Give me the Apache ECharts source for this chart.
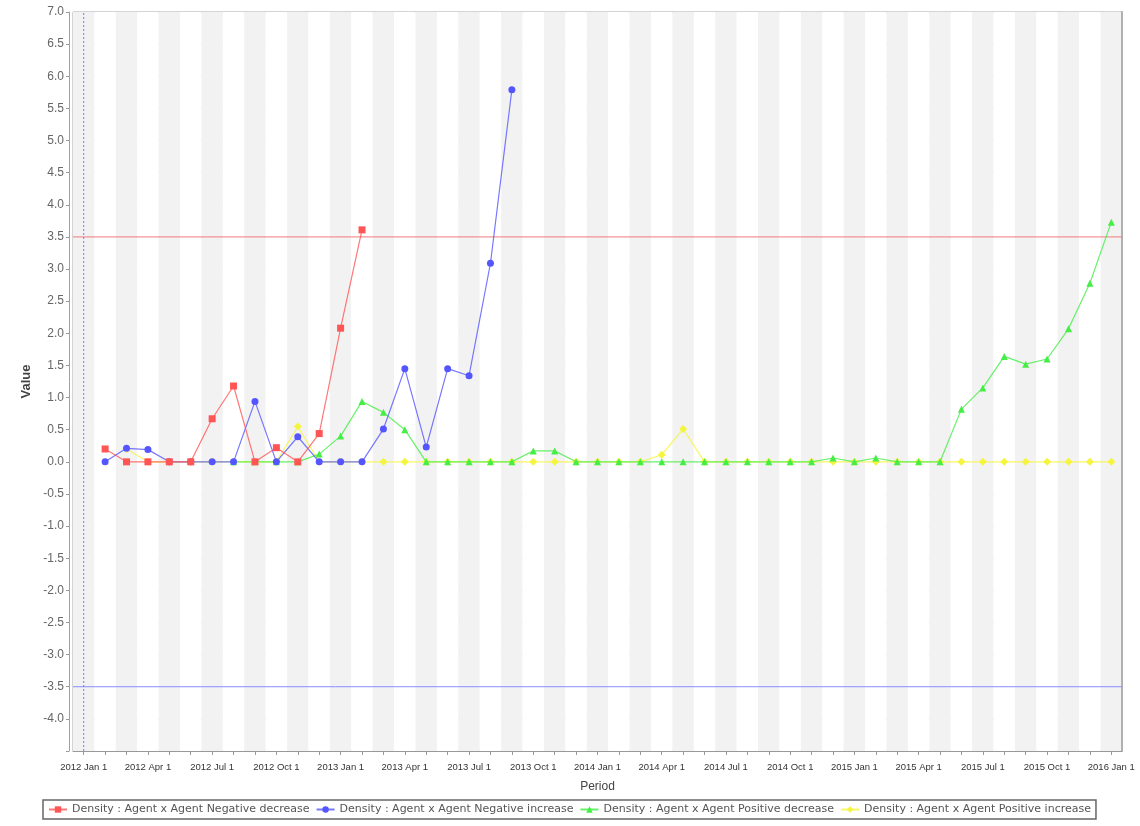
<!DOCTYPE html>
<html>
<head>
<meta charset="utf-8">
<script src="https://cdn.jsdelivr.net/npm/echarts@6/dist/echarts.min.js"></script>
<style>
html,body{margin:0;padding:0;background:#fff;}
#chart{width:1140px;height:826px;}
</style>
</head>
<body>
<div id="chart"></div>
<script>
// Category (month) labels for the time axis
const months = [
  "2012 Jan 1","2012 Feb 1","2012 Mar 1","2012 Apr 1","2012 May 1","2012 Jun 1","2012 Jul 1","2012 Aug 1","2012 Sep 1","2012 Oct 1","2012 Nov 1","2012 Dec 1",
  "2013 Jan 1","2013 Feb 1","2013 Mar 1","2013 Apr 1","2013 May 1","2013 Jun 1","2013 Jul 1","2013 Aug 1","2013 Sep 1","2013 Oct 1","2013 Nov 1","2013 Dec 1",
  "2014 Jan 1","2014 Feb 1","2014 Mar 1","2014 Apr 1","2014 May 1","2014 Jun 1","2014 Jul 1","2014 Aug 1","2014 Sep 1","2014 Oct 1","2014 Nov 1","2014 Dec 1",
  "2015 Jan 1","2015 Feb 1","2015 Mar 1","2015 Apr 1","2015 May 1","2015 Jun 1","2015 Jul 1","2015 Aug 1","2015 Sep 1","2015 Oct 1","2015 Nov 1","2015 Dec 1",
  "2016 Jan 1"
];

// Series names
const seriesNames = [
  "Density : Agent x Agent Negative decrease",
  "Density : Agent x Agent Negative increase",
  "Density : Agent x Agent Positive decrease",
  "Density : Agent x Agent Positive increase"
];

// Negative decrease (red) — from 2012 Feb 1
const negDecStart = "2012 Feb 1";
const negDecValues = [0.20, 0, 0, 0, 0, 0.67, 1.18, 0, 0.22, 0, 0.44, 2.08, 3.61];

// Negative increase (blue) — from 2012 Feb 1
const negIncStart = "2012 Feb 1";
const negIncValues = [0, 0.21, 0.19, 0, 0, 0, 0, 0.94, 0, 0.39, 0, 0, 0, 0.51, 1.45, 0.23, 1.45, 1.34, 3.09, 5.79];

// Positive decrease (green) — from 2012 Aug 1
const posDecStart = "2012 Aug 1";
const posDecValues = [0, 0, 0, 0, 0.12, 0.40, 0.94, 0.77, 0.50, 0, 0, 0, 0, 0, 0.17, 0.17, 0,
  0, 0, 0, 0, 0, 0, 0, 0, 0, 0, 0, 0.06,
  0, 0.06, 0, 0, 0, 0.82, 1.15, 1.64, 1.52, 1.60, 2.07, 2.78,
  3.73];

// Positive increase (yellow) — from 2012 Mar 1
const posIncStart = "2012 Mar 1";
const posIncValues = [0.20, 0, 0, 0, 0, 0, 0, 0, 0.55, 0,
  0, 0, 0, 0, 0, 0, 0, 0, 0, 0, 0, 0,
  0, 0, 0, 0.11, 0.51, 0, 0, 0, 0, 0, 0, 0,
  0, 0, 0, 0, 0, 0, 0, 0, 0, 0, 0, 0,
  0];

// Threshold markers
const upperThreshold = 3.5;
const lowerThreshold = -3.5;
const domainMarker = "2012 Jan 1";

// Y axis ticks
const yMin = -4.5, yMax = 7.0, yStep = 0.5;

function align(start, values) {
  const out = months.map(() => null);
  const i0 = months.indexOf(start);
  values.forEach((v, k) => { out[i0 + k] = v; });
  return out;
}

const colors = ['#FF5555', '#5555FF', '#44EE44', '#F5F540'];
const symbols = ['rect', 'circle', 'triangle', 'diamond'];
const sizes = [7, 7, 7, 8];
const datas = [
  align(negDecStart, negDecValues),
  align(negIncStart, negIncValues),
  align(posDecStart, posDecValues),
  align(posIncStart, posIncValues)
];

const FONT = "'Liberation Sans', Arial, sans-serif";
const LFONT = "'DejaVu Sans', Verdana, sans-serif";

const series = seriesNames.map((name, i) => ({
  name: name,
  type: 'line',
  data: datas[i],
  symbol: symbols[i],
  symbolSize: sizes[i],
  showSymbol: true,
  z: 10 - i,
  itemStyle: { color: colors[i], opacity: 1 },
  lineStyle: { color: colors[i], width: 1.2, opacity: 0.8 },
  emphasis: { disabled: true }
}));

// Threshold lines drawn as plain line series through the axes
function refLine(name, xAxisIndex, data, color, type) {
  return {
    name: name,
    type: 'line',
    xAxisIndex: xAxisIndex,
    data: data,
    symbol: 'none',
    showSymbol: false,
    silent: true,
    z: 3,
    color: color,
    lineStyle: { color: color, type: type, width: 1 },
    emphasis: { disabled: true }
  };
}
series.push(refLine('upper', 1, [[0, upperThreshold], [1, upperThreshold]], '#F07A7A', 'solid'));
series.push(refLine('lower', 1, [[0, lowerThreshold], [1, lowerThreshold]], '#8C8CFF', 'solid'));
series.push(refLine('domain', 0, [[domainMarker, yMin], [domainMarker, yMax]], '#7878FF', [2, 2]));

const chart = echarts.init(document.getElementById('chart'), null, { renderer: 'canvas' });
chart.setOption({
  animation: false,
  backgroundColor: '#ffffff',
  textStyle: { fontFamily: FONT },
  grid: {
    left: 73, right: 18, top: 12, bottom: 75,
    show: true, borderColor: '#A8A8A8', borderWidth: 1, backgroundColor: '#ffffff'
  },
  legend: {
    data: seriesNames,
    left: 43, top: 800,
    itemGap: 6, itemWidth: 18, itemHeight: 8,
    padding: [4, 5],
    borderColor: '#666', borderWidth: 1.5,
    textStyle: { fontSize: 11, color: '#555', fontFamily: LFONT },
    selectedMode: false
  },
  xAxis: [{
    type: 'category',
    data: months,
    boundaryGap: true,
    name: 'Period',
    nameLocation: 'middle',
    nameGap: 30,
    nameTextStyle: { fontSize: 12, color: '#444', fontFamily: FONT },
    axisLine: { show: true, onZero: false, lineStyle: { color: '#999', width: 1 } },
    axisTick: { show: true, interval: 0, alignWithLabel: true, length: 4, lineStyle: { color: '#999' } },
    axisLabel: { interval: 2, fontSize: 9.5, color: '#333', margin: 11, fontFamily: FONT },
    splitLine: { show: false },
    splitArea: { show: true, interval: 0, areaStyle: { color: ['#F2F2F2', '#FFFFFF'] } }
  }, {
    type: 'value',
    min: 0, max: 1,
    show: false,
    axisLine: { onZero: false },
    splitLine: { show: false }
  }],
  yAxis: [{
    type: 'value',
    min: yMin, max: yMax, interval: yStep,
    name: 'Value',
    nameLocation: 'middle',
    nameGap: 34,
    nameRotate: 90,
    nameTextStyle: { fontSize: 13, color: '#444', fontWeight: 'bold', fontFamily: FONT },
    offset: 4,
    axisLine: { show: true, onZero: false, lineStyle: { color: '#A0A0A0', width: 1 } },
    axisTick: { show: true, length: 3, lineStyle: { color: '#999' } },
    axisLabel: {
      fontSize: 12, color: '#666', margin: 5, fontFamily: FONT,
      formatter: v => (v <= yMin + 1e-9 ? '' : v.toFixed(1))
    },
    splitLine: { show: true, lineStyle: { color: '#C8C8C8', type: [2, 2], width: 1 } }
  }, {
    type: 'value',
    position: 'right',
    min: yMin, max: yMax, interval: yStep,
    axisLine: { show: true, onZero: false, lineStyle: { color: '#B0B0B0', width: 2 } },
    axisTick: { show: false },
    axisLabel: { show: false },
    splitLine: { show: false }
  }],
  series: series
});
</script>
</body>
</html>
